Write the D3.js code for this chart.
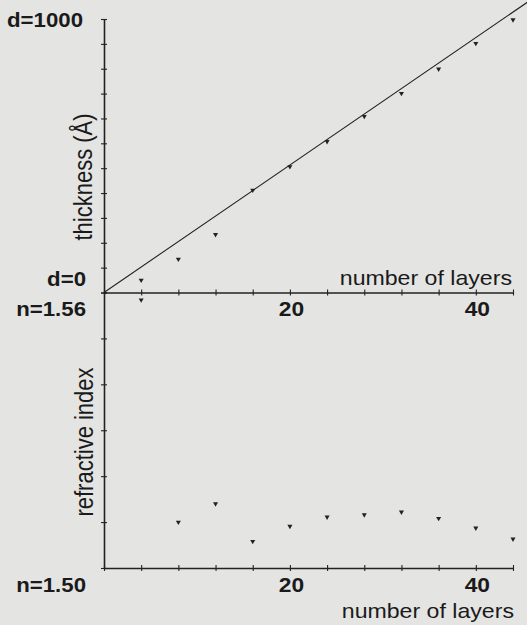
<!DOCTYPE html>
<html lang="en">
<head>
  <meta charset="UTF-8" />
  <title>Thickness and refractive index vs number of layers</title>
  <script src="https://d3js.org/d3.v7.min.js"></script>
  <style>
    body { margin: 0; background: #e4e4e2; }
    svg { display: block; }
    text { font-family: "Liberation Sans", Arial, sans-serif; fill: #1a1a1a; }
    .axis path, .axis line { stroke: #222; }
  </style>
</head>
<body>
  <svg width="527" height="625"></svg>
  <script>
    // data
    const layers = [4, 8, 12, 16, 20, 24, 28, 32, 36, 40, 44];
    const thickness = [45, 122, 212, 374, 460, 552, 644, 728, 817, 911, 997];
    const refrIndex = [1.5584, 1.5100, 1.5140, 1.5058, 1.5091, 1.5111, 1.5116, 1.5122, 1.5108, 1.5087, 1.5063];
    const fitSlope = 23.3;            // angstrom per layer
    const fitRange = [0, 46];
    const xTickLabels = [20, 40];

    const svg = d3.select("svg");

    const x = d3.scaleLinear().domain([0, 44]).range([104, 513]);
    const yD = d3.scaleLinear().domain([0, 1000]).range([292.5, 19]);
    const yN = d3.scaleLinear().domain([1.50, 1.56]).range([568, 292.5]);

    // crossing ticks helper
    function crossTicks(g, vertical) {
      g.select(".domain").attr("stroke-width", 1.6);
      g.selectAll(".tick line").attr("stroke-width", 1.1)
        .attr(vertical ? "x1" : "y1", -3).attr(vertical ? "x2" : "y2", 3);
      g.selectAll(".tick text").remove();
    }

    // top panel: thickness
    svg.append("g").attr("class", "axis")
      .attr("transform", `translate(0,${yD(0)})`)
      .call(d3.axisBottom(x).tickValues(d3.range(0, 45, 4)).tickSizeOuter(0))
      .call(g => crossTicks(g, false));

    svg.append("g").attr("class", "axis")
      .attr("transform", `translate(${x(0)},0)`)
      .call(d3.axisLeft(yD).tickValues(d3.range(0, 12).map(i => i * 1000 / 11)).tickSizeOuter(0))
      .call(g => crossTicks(g, true));

    // bottom panel: refractive index
    svg.append("g").attr("class", "axis")
      .attr("transform", `translate(0,${yN(1.50)})`)
      .call(d3.axisBottom(x).tickValues(d3.range(0, 45, 4)).tickSizeOuter(0))
      .call(g => crossTicks(g, false));

    svg.append("g").attr("class", "axis")
      .attr("transform", `translate(${x(0)},0)`)
      .call(d3.axisLeft(yN).tickValues(d3.range(1.50, 1.565, 0.01)).tickSizeOuter(0))
      .call(g => crossTicks(g, true));

    // fitted line
    svg.append("line")
      .attr("x1", x(fitRange[0])).attr("y1", yD(fitSlope * fitRange[0]))
      .attr("x2", x(fitRange[1])).attr("y2", yD(fitSlope * fitRange[1]))
      .attr("stroke", "#222").attr("stroke-width", 1.1);

    const tri = d3.symbol().type(d3.symbolTriangle).size(11);

    svg.append("g").selectAll("path")
      .data(layers.map((l, i) => [l, thickness[i]]))
      .join("path")
      .attr("d", tri)
      .attr("fill", "#222")
      .attr("transform", d => `translate(${x(d[0])},${yD(d[1])}) rotate(180)`);

    svg.append("g").selectAll("path")
      .data(layers.map((l, i) => [l, refrIndex[i]]))
      .join("path")
      .attr("d", tri)
      .attr("fill", "#222")
      .attr("transform", d => `translate(${x(d[0])},${yN(d[1])}) rotate(180)`);

    // labels (the scanned original is a little stretched sideways)
    const stretch = 1.14;
    const lab = (txt, px, py, opts = {}) => svg.append("text")
      .attr("text-anchor", opts.anchor || "start")
      .attr("font-size", opts.size || 21)
      .attr("font-weight", opts.bold ? "bold" : "normal")
      .attr("transform", `translate(${px},${py}) scale(${stretch},1)` + (opts.rotate ? " rotate(-90)" : ""))
      .text(txt);

    lab("d=1000", 83, 27, { anchor: "end", size: 19.5, bold: true });
    lab("d=0", 86, 286, { anchor: "end", size: 19.5, bold: true });
    lab("n=1.56", 86, 315.5, { anchor: "end", size: 19.5, bold: true });
    lab("n=1.50", 86, 592, { anchor: "end", size: 19.5, bold: true });

    xTickLabels.forEach(v => {
      lab(v, x(v) + 1.5, 315.5, { anchor: "middle", size: 20, bold: true });
      lab(v, x(v) + 1.5, 592, { anchor: "middle", size: 20, bold: true });
    });

    lab("number of layers", 512, 285, { anchor: "end", size: 20.3 });
    lab("number of layers", 514, 618, { anchor: "end", size: 20.3 });

    lab("thickness (Å)", 92, 177, { anchor: "middle", size: 22, rotate: true });
    lab("refractive index", 93, 442, { anchor: "middle", size: 22, rotate: true });
  </script>
</body>
</html>
